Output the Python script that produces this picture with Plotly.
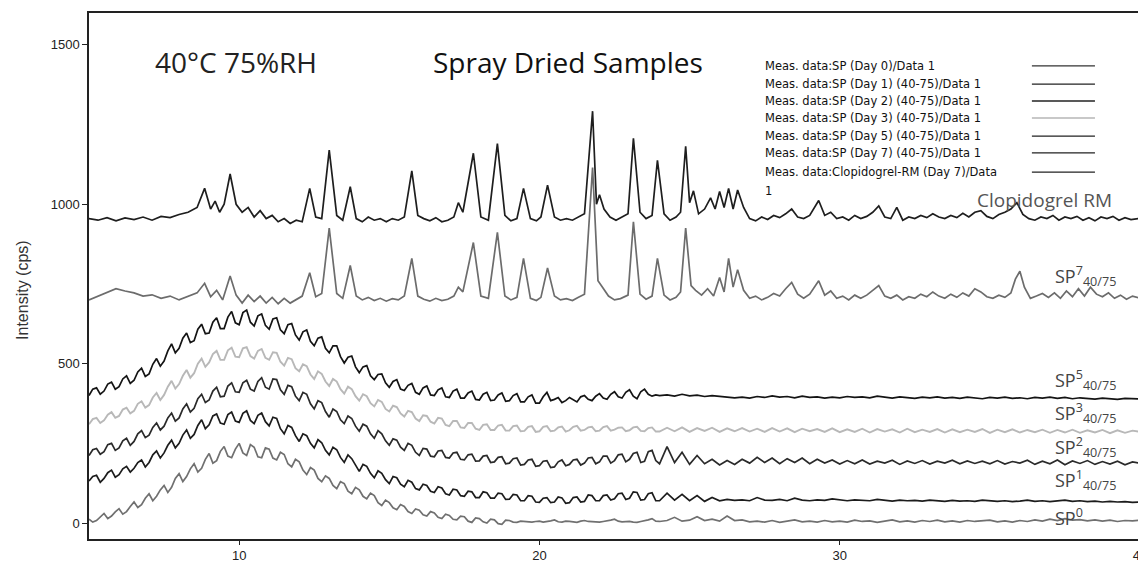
import numpy as np
import plotly.graph_objects as go

# ---------------- data ----------------
# 2-theta grid for the amorphous spray-dried samples:
# 0.125 deg steps over the noisy halo (5-24), 0.25 deg steps after
two_theta = np.concatenate([np.arange(5.0, 24.0, 0.125), np.arange(24.0, 40.001, 0.25)])

sp0_day0 = [
    12, 3, 8, 20, 30, 14, 22, 35,          45, 28, 36, 52, 66, 49, 58, 78,
    92, 70, 84, 104, 118, 96, 112, 140,    155, 130, 146, 170, 186, 160, 172, 200,
    218, 188, 196, 225, 240, 210, 205, 232, 250, 220, 212, 246, 238, 208, 205, 236,
    232, 204, 198, 222, 215, 186, 176, 200, 192, 166, 152, 174, 166, 140, 130, 148,
    140, 118, 108, 130, 124, 100, 92, 112,  104, 84, 76, 94, 86, 64, 55, 72,
    64, 48, 42, 58, 52, 36, 30, 44,         40, 26, 22, 36, 32, 18, 14, 28,
    24, 12, 10, 22, 20, 6, 2, 16,           14, 4, 0, 12, 10, -2, -4, 9,
    8, 3, 2, 6, 5, 2, 3, 5,                 6, 3, 4, 7, 10, 4, 3, 6,
    5, 3, 2, 6, 8, 5, 4, 3,                 3, 5, 6, 9, 12, 6, 4, 5,
    5, 3, 2, 5, 7, 10, 14, 6,
    5, 8, 18, 6,  9, 20, 8, 12,  6, 22, 8, 10,  4, 6, 3, 8,
    2, 5, 10, 4,  6, 3, 8, 4,  6, 3, 9, 5,  7, 2, 6, 10,
    4, 7, 3, 8,  5, 9, 4, 7,  3, 8, 5, 6,  9, 4, 7, 3,
    8, 5, 10, 6,  12, 8, 14, 9,  11, 7, 10, 6,  9, 5, 8, 7,  9]

sp1_day1 = [
    132, 146, 150, 128, 140, 158, 166, 144,  152, 170, 178, 160, 172, 190, 198, 176,
    190, 214, 226, 204, 220, 244, 260, 236,  250, 276, 292, 266, 278, 306, 324, 296,
    308, 336, 342, 314, 310, 340, 348, 320,  316, 344, 352, 322, 312, 338, 345, 318,
    305, 332, 328, 296, 280, 306, 300, 274,  256, 280, 274, 250, 236, 262, 252, 228,
    214, 238, 230, 206, 190, 214, 202, 182,  162, 184, 178, 156, 142, 164, 156, 136,
    124, 146, 142, 122, 114, 134, 128, 108,  104, 122, 118, 100, 96, 114, 110, 92,
    88, 106, 104, 86, 84, 100, 98, 80,       80, 98, 95, 78, 78, 94, 92, 74,
    75, 90, 88, 70, 70, 86, 84, 66,          65, 78, 80, 64, 66, 82, 79, 62,
    64, 80, 82, 66, 68, 88, 86, 70,          70, 86, 88, 72, 76, 92, 94, 74,
    78, 98, 96, 72, 74, 92, 95, 70,
    70, 94, 72, 90,  70, 86, 68, 80,  70, 74, 71, 73,  70, 80, 72, 71,
    74, 70, 78, 72,  70, 73, 71, 76,  72, 70, 73, 71,  70, 74, 71, 69,
    72, 70, 71, 69,  72, 70, 68, 71,  69, 70, 68, 72,  69, 68, 70, 67,
    69, 72, 68, 70,  67, 69, 72, 68,  70, 67, 69, 66,  68, 66, 67, 65,  66]

sp2_day2 = [
    212, 230, 234, 216, 224, 246, 250, 228,  236, 258, 266, 244, 256, 280, 290, 268,
    276, 300, 314, 292, 304, 330, 345, 320,  330, 358, 374, 348, 360, 390, 404, 378,
    386, 414, 426, 396, 398, 430, 440, 412,  410, 440, 448, 420, 414, 444, 456, 426,
    420, 452, 450, 418, 404, 432, 428, 398,  384, 410, 404, 374, 358, 384, 378, 350,
    332, 358, 350, 324, 312, 336, 328, 304,  288, 310, 304, 280, 266, 290, 280, 258,
    244, 264, 260, 238, 228, 250, 244, 222,  212, 234, 232, 210, 208, 226, 228, 206,
    204, 220, 222, 200, 198, 214, 216, 194,  195, 210, 212, 190, 192, 206, 208, 186,
    188, 202, 204, 182, 184, 198, 200, 178,  180, 194, 196, 174, 176, 192, 198, 180,
    184, 198, 200, 182, 188, 204, 206, 186,  192, 210, 210, 188, 196, 214, 216, 192,
    200, 218, 222, 190, 194, 224, 228, 196,
    186, 240, 190, 222,  184, 212, 186, 200,  182, 196, 184, 200,  188, 206, 190, 204,
    186, 202, 190, 204,  186, 200, 188, 198,  185, 196, 186, 198,  185, 194, 188, 197,
    184, 195, 187, 196,  185, 194, 188, 197,  186, 195, 187, 194,  186, 196, 185, 193,
    188, 197, 184, 194,  186, 198, 183, 195,  187, 196, 184, 193,  185, 194, 183, 192,  188]

sp3_day3 = [
    310, 326, 330, 314, 322, 340, 348, 330,  336, 356, 362, 344, 352, 374, 382, 362,
    370, 394, 408, 386, 402, 428, 446, 422,  436, 462, 480, 456, 470, 500, 516, 490,
    504, 530, 540, 512, 512, 542, 550, 522,  520, 548, 552, 524, 516, 540, 546, 518,
    512, 536, 534, 506, 494, 518, 514, 486,  476, 498, 492, 466, 452, 476, 468, 444,
    430, 452, 444, 420, 406, 428, 420, 398,  384, 404, 398, 376, 366, 386, 380, 358,
    350, 368, 364, 344, 334, 352, 348, 328,  320, 338, 336, 318, 312, 330, 328, 308,
    304, 320, 320, 300, 298, 314, 314, 296,  292, 308, 310, 292, 292, 306, 308, 290,
    290, 304, 306, 288, 289, 302, 304, 286,  288, 302, 304, 288, 290, 300, 303, 287,
    291, 302, 305, 290, 292, 300, 302, 288,  290, 301, 304, 290, 293, 299, 300, 288,
    291, 300, 302, 289, 288, 298, 300, 287,
    287, 299, 288, 300,  286, 298, 289, 299,  286, 297, 288, 298,  287, 296, 286, 298,
    287, 297, 285, 296,  288, 295, 286, 297,  285, 294, 286, 296,  284, 295, 287, 294,
    284, 296, 285, 293,  286, 295, 284, 294,  285, 293, 286, 295,  283, 293, 285, 294,
    284, 292, 285, 293,  283, 292, 284, 293,  283, 291, 284, 292,  282, 291, 283, 290,  286]

sp5_day5 = [
    400, 420, 424, 404, 414, 436, 442, 420,  428, 452, 462, 438, 448, 474, 486, 460,
    468, 498, 516, 492, 508, 540, 562, 534,  548, 580, 596, 566, 572, 608, 624, 594,
    596, 630, 644, 610, 610, 646, 664, 628,  622, 660, 668, 630, 618, 650, 656, 620,
    608, 640, 644, 606, 594, 622, 626, 590,  574, 600, 606, 570, 556, 580, 584, 548,
    534, 556, 556, 522, 502, 520, 524, 490,  472, 490, 494, 462, 450, 466, 468, 440,
    426, 444, 450, 420, 416, 432, 438, 410,  404, 424, 430, 402, 400, 418, 424, 396,
    394, 414, 420, 392, 392, 408, 414, 388,  386, 404, 410, 384, 386, 402, 408, 382,
    384, 400, 406, 380, 380, 396, 402, 376,  376, 396, 410, 384, 388, 394, 378, 384,
    394, 386, 380, 396, 400, 388, 384, 398,  406, 392, 388, 404, 412, 396, 392, 410,
    418, 398, 390, 412, 420, 404, 398, 402,
    400, 402, 398, 404,  399, 401, 397, 400,  398, 396, 393, 395,  392, 397, 394, 399,
    395, 397, 393, 398,  394, 396, 392, 395,  393, 397, 394, 396,  393, 398, 395, 392,
    396, 394, 391, 395,  393, 396, 392, 394,  391, 395, 393, 390,  394, 392, 395, 391,
    393, 390, 394, 392,  395, 391, 394, 390,  393, 391, 389, 392,  390, 388, 391, 389,  389]

# crystalline traces: non-uniform 2-theta points (peaks)
sp7_x = [5.0, 5.3, 5.6, 5.9, 6.2, 6.5, 6.8, 7.1, 7.4, 7.7, 8.0, 8.3, 8.6, 8.85, 9.05, 9.25,
         9.45, 9.7, 9.9, 10.1, 10.3, 10.5, 10.7, 10.9, 11.1, 11.3, 11.5, 11.7, 11.9, 12.1,
         12.35, 12.55, 12.75, 13.0, 13.25, 13.45, 13.7, 13.9, 14.1, 14.3, 14.5, 14.7, 14.9,
         15.1, 15.3, 15.5, 15.75, 15.95, 16.15, 16.35, 16.55, 16.75, 16.95, 17.15, 17.3,
         17.45, 17.8, 18.05, 18.3, 18.6, 18.85, 19.05, 19.25, 19.47, 19.7, 19.9, 20.05,
         20.27, 20.5, 20.7, 20.9, 21.1, 21.3, 21.5, 21.77, 21.95, 22.1, 22.3, 22.5, 22.7,
         22.95, 23.13, 23.35, 23.55, 23.75, 23.93, 24.15, 24.35, 24.55, 24.7, 24.87, 25.05,
         25.2, 25.4, 25.6, 25.8, 26.0, 26.15, 26.3, 26.45, 26.6, 26.8, 27.0, 27.2, 27.4,
         27.6, 27.8, 28.0, 28.2, 28.4, 28.6, 28.8, 29.0, 29.3, 29.5, 29.7, 29.9, 30.1, 30.3,
         30.5, 30.7, 30.9, 31.1, 31.3, 31.5, 31.7, 31.9, 32.1, 32.3, 32.5, 32.7, 32.9, 33.1,
         33.3, 33.5, 33.7, 33.9, 34.1, 34.3, 34.5, 34.7, 34.9, 35.1, 35.3, 35.5, 35.7, 35.85,
         36.0, 36.15, 36.35, 36.55, 36.75, 36.95, 37.15, 37.35, 37.55, 37.75, 37.95, 38.15,
         38.35, 38.55, 38.75, 38.95, 39.15, 39.35, 39.55, 39.75, 40.0]
sp7_day7 = [700, 712, 725, 735, 728, 722, 712, 716, 705, 712, 700, 712, 722, 752, 710, 730,
            700, 775, 715, 690, 715, 695, 712, 690, 708, 688, 705, 690, 702, 712,
            785, 710, 720, 925, 720, 705, 808, 712, 700, 708, 698, 705, 696,
            704, 700, 712, 830, 712, 702, 696, 705, 698, 702, 712, 740,
            725, 880, 712, 705, 912, 712, 700, 708, 830, 705, 698, 708,
            800, 712, 700, 704, 698, 708, 718, 1115, 760, 740, 712, 700, 704,
            715, 945, 718, 702, 712, 830, 715, 700, 708, 725, 925, 745,
            730, 715, 735, 712, 770, 725, 830, 740, 795, 730, 705, 712, 700,
            708, 720, 712, 735, 755, 718, 705, 718, 760, 715, 728, 705, 712, 700,
            715, 705, 715, 730, 745, 712, 705, 715, 700, 710, 705, 718, 710, 725,
            712, 705, 718, 708, 722, 712, 735, 725, 710, 705, 715, 708, 722, 765,
            790, 740, 705, 712, 720, 708, 722, 705, 728, 710, 735, 712,
            740, 718, 710, 722, 705, 715, 702, 712, 705]

clop_x = [5.0, 5.3, 5.6, 5.9, 6.2, 6.5, 6.8, 7.1, 7.4, 7.7, 8.0, 8.3, 8.6, 8.85, 9.05, 9.2,
          9.35, 9.5, 9.7, 9.9, 10.1, 10.3, 10.5, 10.7, 10.9, 11.1, 11.3, 11.5, 11.7, 11.9,
          12.1, 12.35, 12.55, 12.75, 13.0, 13.25, 13.45, 13.7, 13.9, 14.1, 14.3, 14.5, 14.7,
          14.9, 15.1, 15.3, 15.5, 15.75, 15.95, 16.15, 16.35, 16.55, 16.75, 16.95, 17.15,
          17.3, 17.45, 17.8, 18.05, 18.3, 18.6, 18.85, 19.05, 19.25, 19.47, 19.7, 19.9,
          20.05, 20.27, 20.5, 20.7, 20.9, 21.1, 21.3, 21.5, 21.77, 21.9, 22.0, 22.15, 22.35,
          22.55, 22.75, 22.95, 23.13, 23.35, 23.55, 23.75, 23.93, 24.15, 24.35, 24.55, 24.7,
          24.87, 25.0, 25.13, 25.3, 25.5, 25.7, 25.85, 26.0, 26.15, 26.3, 26.45, 26.6, 26.8,
          27.0, 27.2, 27.4, 27.6, 27.8, 28.0, 28.2, 28.4, 28.6, 28.8, 29.0, 29.3, 29.5, 29.7,
          29.9, 30.1, 30.3, 30.5, 30.7, 30.9, 31.1, 31.3, 31.5, 31.7, 31.9, 32.1, 32.3, 32.5,
          32.7, 32.9, 33.1, 33.3, 33.5, 33.7, 33.9, 34.1, 34.3, 34.5, 34.7, 34.9, 35.1, 35.3,
          35.5, 35.7, 35.9, 36.1, 36.3, 36.5, 36.7, 36.9, 37.1, 37.3, 37.5, 37.7, 37.9, 38.1,
          38.3, 38.5, 38.7, 38.9, 39.1, 39.3, 39.5, 39.7, 40.0]
clop_rm = [955, 950, 958, 948, 957, 952, 960, 950, 962, 958, 968, 975, 990, 1050, 985, 1010,
           975, 1000, 1095, 1000, 975, 990, 960, 980, 955, 965, 945, 955, 940, 950,
           945, 1050, 960, 955, 1170, 965, 950, 1055, 955, 945, 960, 950, 955,
           945, 955, 950, 960, 1105, 965, 955, 948, 958, 945, 950, 960,
           1005, 975, 1160, 960, 950, 1190, 965, 948, 955, 1050, 955, 948,
           960, 1060, 960, 950, 955, 950, 960, 970, 1292, 1000, 1030, 985, 960,
           950, 960, 970, 1207, 975, 955, 965, 1138, 970, 950, 960, 975,
           1182, 1005, 1042, 970, 985, 1020, 985, 1040, 990, 1050, 985, 1045, 990,
           955, 948, 960, 952, 965, 958, 970, 985, 960, 955, 965, 1012, 965, 975,
           955, 960, 950, 965, 955, 962, 975, 995, 960, 955, 990, 950, 960, 955,
           965, 958, 970, 960, 955, 965, 958, 972, 960, 975, 980, 962, 955, 968,
           975, 985, 1005, 968, 955, 950, 960, 955, 965, 950, 960, 955, 962, 950,
           958, 948, 960, 955, 962, 950, 958, 952, 956]

legend_labels = [
    "Meas. data:SP (Day 0)/Data 1",
    "Meas. data:SP (Day 1) (40-75)/Data 1",
    "Meas. data:SP (Day 2) (40-75)/Data 1",
    "Meas. data:SP (Day 3) (40-75)/Data 1",
    "Meas. data:SP (Day 5) (40-75)/Data 1",
    "Meas. data:SP (Day 7) (40-75)/Data 1",
    "Meas. data:Clopidogrel-RM (Day 7)/Data",
]
sample_labels = ["0", "1", "2", "3", "5", "7"]

# ---------------- figure ----------------
fig = go.Figure()

amorph = [
    (sp0_day0, "#707070", 1.7),
    (sp1_day1, "#1c1c1c", 1.7),
    (sp2_day2, "#2a2a2a", 1.7),
    (sp3_day3, "#b8b8b8", 1.9),
    (sp5_day5, "#141414", 1.7),
]
for (vals, col, w), name in zip(amorph, legend_labels[:5]):
    assert len(vals) == len(two_theta), (name, len(vals), len(two_theta))
    fig.add_trace(go.Scatter(x=two_theta, y=vals, mode="lines", name=name,
                             line=dict(color=col, width=w), showlegend=False))

assert len(sp7_x) == len(sp7_day7)
assert len(clop_x) == len(clop_rm)
fig.add_trace(go.Scatter(x=sp7_x, y=sp7_day7, mode="lines", name=legend_labels[5],
                         line=dict(color="#6c6c6c", width=1.7), showlegend=False))
fig.add_trace(go.Scatter(x=clop_x, y=clop_rm, mode="lines", name=legend_labels[6],
                         line=dict(color="#1e1e1e", width=1.7), showlegend=False))

ann = []
ann.append(dict(x=7.13, y=1446, xref="x", yref="y", xanchor="left", yanchor="middle",
                text="40°C 75%RH", showarrow=False,
                font=dict(family="Open Sans", size=28, color="#222")))
ann.append(dict(x=16.4, y=1446, xref="x", yref="y", xanchor="left", yanchor="middle",
                text="Spray Dried Samples", showarrow=False,
                font=dict(family="Open Sans", size=28, color="#111")))

# y axis title
ann.append(dict(x=-0.064, y=0.473, xref="paper", yref="paper", xanchor="center",
                yanchor="middle", textangle=-90, text="Intensity (cps)", showarrow=False,
                font=dict(family="Liberation Sans", size=16, color="#333")))

# legend block (text on left, line sample on right)
leg_rows = [1434, 1377, 1324, 1271, 1214, 1161, 1101]
leg_cols = ["#333", "#222", "#222", "#c8c8c8", "#222", "#222", "#222"]
shapes = []
for lab, yy, lc in zip(legend_labels, leg_rows, leg_cols):
    ann.append(dict(x=27.44, y=yy, xref="x", yref="y", xanchor="left", yanchor="middle",
                    text=lab, showarrow=False,
                    font=dict(family="DejaVu Sans", size=11.5, color="#111")))
    shapes.append(dict(type="line", xref="x", yref="y", x0=36.4, x1=38.5, y0=yy, y1=yy,
                       line=dict(color=lc, width=1.3 if lc != "#c8c8c8" else 2)))
ann.append(dict(x=27.44, y=1042, xref="x", yref="y", xanchor="left", yanchor="middle",
                text="1", showarrow=False,
                font=dict(family="DejaVu Sans", size=11.5, color="#111")))

# sample labels
ann.append(dict(x=34.5, y=1013, xref="x", yref="y", xanchor="left", yanchor="middle",
                text="Clopidogrel RM", showarrow=False,
                font=dict(family="Open Sans", size=19, color="#555")))
label_y = [18, 135, 240, 345, 450, 775]
for d, yy in zip(sample_labels, label_y):
    ann.append(dict(x=37.1, y=yy, xref="x", yref="y", xanchor="left", yanchor="middle",
                    text="SP<sup>%s</sup><sub>40/75</sub>" % d if d != "0" else "SP<sup>0</sup>",
                    showarrow=False,
                    font=dict(family="Open Sans", size=18, color="#444")))

# the page body has an 8px default margin, so the figure is sized/shifted to compensate
fig.update_layout(
    width=1138, height=557,
    margin=dict(l=81, r=6, t=5, b=26, autoexpand=False),
    paper_bgcolor="white", plot_bgcolor="white",
    annotations=ann, shapes=shapes,
    showlegend=False,
)
fig.update_xaxes(range=[5, 40], tickvals=[10, 20, 30, 40], ticks="outside", ticklen=4,
                 tickcolor="#222", showgrid=False, zeroline=False, showline=True,
                 linecolor="#222", linewidth=1.5, mirror=True, automargin=False,
                 ticklabeloverflow="allow",
                 tickfont=dict(family="Liberation Sans", size=13, color="#222"))
fig.update_yaxes(range=[-50, 1600], tickvals=[0, 500, 1000, 1500], ticks="outside",
                 ticklen=5, tickcolor="#222", showgrid=False, zeroline=False,
                 showline=True, linecolor="#222", linewidth=1.5, mirror=True,
                 automargin=False,
                 tickfont=dict(family="Liberation Sans", size=13, color="#222"))

fig.write_html("out.html")
